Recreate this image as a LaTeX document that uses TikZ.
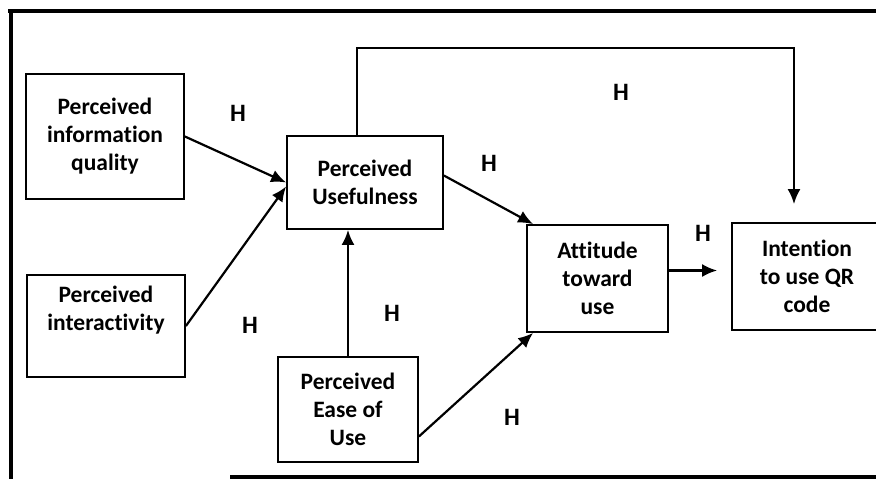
\documentclass[tikz,border=0pt]{standalone}
\usepackage{fontspec}
\setmainfont[Ligatures={NoCommon}]{Carlito}
\usetikzlibrary{arrows.meta}
\begin{document}
\begin{tikzpicture}[x=1pt,y=-1pt,
  box/.style={draw, line width=1.8pt, align=center, inner sep=0pt,
    font=\bfseries\fontsize{23.5}{28}\selectfont},
  hlab/.style={font=\bfseries\fontsize{25}{28}\selectfont, inner sep=0pt},
  conn/.style={line width=2.2pt, -{Latex[length=15pt,width=13pt]}},
  frame/.style={line width=3.4pt}]
\useasboundingbox (0,0) rectangle (876,479);
\begin{scope}
\clip (0,0) rectangle (876,479);
% frame
\draw[frame] (8,11) -- (876,11);
\draw[line width=4.4pt] (11,10) -- (11,479);
\draw[frame] (230,477) -- (876,477);
% boxes
\node[box, minimum width=158pt, minimum height=125pt] (piq) at (105,136.5) {Perceived\\information\\quality};
\node[box, minimum width=156pt, minimum height=93pt] (pu) at (365,182.5) {Perceived\\Usefulness};
\node[box, minimum width=158pt, minimum height=102pt] (pi) at (106,326) {Perceived\\interactivity\\\strut};
\node[box, minimum width=140pt, minimum height=105pt] (peou) at (348,409.5) {Perceived\\Ease of\\Use};
\node[box, minimum width=141pt, minimum height=107pt] (atu) at (597.5,278.5) {Attitude\\toward\\use};
\node[box, minimum width=150pt, minimum height=107pt] (itu) at (807,276.5) {Intention\\to use QR\\code};
% connectors
\draw[conn] (piq.east) -- (pu.west);
\draw[conn] (pi.east) -- ([yshift=-4pt]pu.west);
\draw[conn] (peou.north) -- (peou.north |- pu.south);
\draw[conn] ([yshift=7pt]pu.east) -- ([xshift=7pt]atu.north west);
\draw[conn] ([yshift=-27pt]peou.east) -- ([xshift=7pt]atu.south west);
\draw[conn, shorten >=14pt] ([yshift=8pt]atu.east) -- ([yshift=8pt]atu.east -| itu.west);
\coordinate (fb) at (794,48);
\draw[conn, shorten >=18pt] ([xshift=-8pt]pu.north) |- (fb) -- (fb |- itu.north);
% labels
\node[hlab] (h1) at (238,113) {H};
\node[hlab] (h2) at (621,92) {H};
\node[hlab] (h3) at (489,163) {H};
\node[hlab] (h4) at (703,233) {H};
\node[hlab] (h5) at (250,325) {H};
\node[hlab] (h6) at (392,313) {H};
\node[hlab] (h7) at (512,417) {H};
\end{scope}
\end{tikzpicture}
\end{document}
